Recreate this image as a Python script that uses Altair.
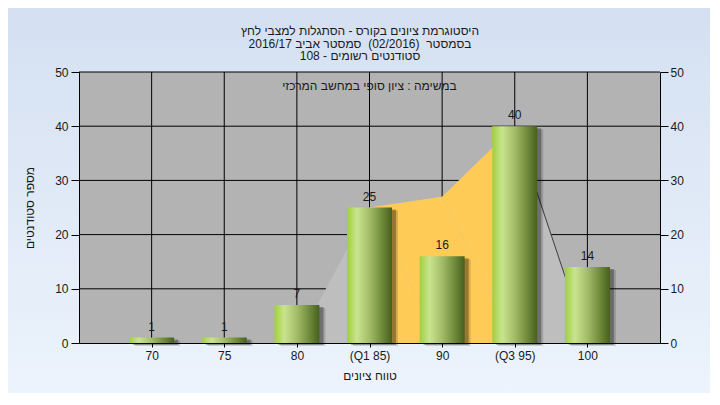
import altair as alt
import pandas as pd

# ---- data ----
categories = ["70", "75", "80", "(Q1 85)", "90", "(Q3 95)", "100"]
counts = [1, 1, 7, 25, 16, 40, 14]
area_values = [0, 0, 0, 25, 27, 40, 0]
iqr_categories = ["(Q1 85)", "90", "(Q3 95)"]
iqr_values = [25, 27, 40]
tail_categories = ["(Q3 95)", "100"]
tail_values = [40, 0]
y_ticks = [0, 10, 20, 30, 40, 50]

title_lines = [
    "היסטוגרמת ציונים בקורס - הסתגלות למצבי לחץ",
    "בסמסטר \u00a0(02/2016) \u00a0סמסטר אביב 2016/17",
    "סטודנטים רשומים - 108",
]
subtitle = "במשימה : ציון סופי במחשב המרכזי"
x_title = "טווח ציונים"
y_title = "מספר סטודנטים"

FONT = "Liberation Sans"
W, H = 581, 271

df_main = pd.DataFrame({"cat": categories, "count": counts, "area": area_values,
                        "idx": list(range(len(categories)))})
df_iqr = pd.DataFrame({"cat": iqr_categories, "v": iqr_values, "idx": list(range(len(iqr_categories)))})
df_tail = pd.DataFrame({"cat": tail_categories, "v": tail_values, "idx": list(range(len(tail_categories)))})
df_ticks = pd.DataFrame({"v": y_ticks[1:]})
df_one = pd.DataFrame({"a": [0]})

xscale = alt.Scale(type="point", domain=categories, padding=1)
yscale = alt.Scale(domain=[0, 50], nice=False)

x_axis = alt.Axis(title=x_title, labelAngle=0, grid=False, tickSize=4, labelPadding=3,
                  titlePadding=9, domainColor="black", tickColor="black",
                  labelColor="#1a1a1a", titleColor="#1a1a1a", labelFont=FONT, titleFont=FONT,
                  labelFontSize=12, titleFontSize=12, titleFontWeight="normal", zindex=1)
X = alt.X("cat:N", scale=xscale, axis=x_axis)

bg = alt.Chart(df_one).mark_rect(
    color=alt.Gradient(gradient="linear", x1=0, x2=0, y1=0, y2=1,
                       stops=[alt.GradientStop(color="#d3dff1", offset=0),
                              alt.GradientStop(color="#eef5fd", offset=1)])
).encode(x=alt.value(-80), x2=alt.value(W + 80), y=alt.value(-80), y2=alt.value(H + 80))

plot_bg = alt.Chart(df_one).mark_rect(color="#b3b3b3").encode(
    x=alt.value(0), x2=alt.value("width"), y=alt.value(0), y2=alt.value("height"))

hgrid = alt.Chart(df_ticks).mark_rule(color="black", strokeWidth=1).encode(
    y=alt.Y("v:Q", scale=yscale, axis=None))
vgrid = alt.Chart(df_main).mark_rule(color="black", strokeWidth=1).encode(x=X)

area_gray = alt.Chart(df_main).mark_area(color="#bebebe").encode(
    x=X, y=alt.Y("area:Q", scale=yscale, axis=None), order="idx:Q")
area_yellow = alt.Chart(df_iqr).mark_area(color="#ffcb57").encode(
    x=X, y=alt.Y("v:Q", scale=yscale, axis=None), order="idx:Q")
tail_line = alt.Chart(df_tail).mark_line(color="#3c3c3c", strokeWidth=1).encode(
    x=X, y=alt.Y("v:Q", scale=yscale, axis=None), order="idx:Q")

shadow1 = alt.Chart(df_main).mark_bar(size=45, color="#000000", opacity=0.15, xOffset=6, yOffset=3).encode(
    x=X, y=alt.Y("count:Q", scale=yscale, axis=None))
shadow2 = alt.Chart(df_main).mark_bar(size=45, color="#000000", opacity=0.3, xOffset=4, yOffset=2).encode(
    x=X, y=alt.Y("count:Q", scale=yscale, axis=None))

bar_grad = alt.Gradient(gradient="linear", x1=0, x2=1, y1=0, y2=0, stops=[
    alt.GradientStop(color="#9fcf3e", offset=0),
    alt.GradientStop(color="#c9e48e", offset=0.22),
    alt.GradientStop(color="#a3bc6a", offset=0.5),
    alt.GradientStop(color="#6f8a3a", offset=0.78),
    alt.GradientStop(color="#46601e", offset=1),
])

bars = alt.Chart(df_main).mark_bar(size=45, color=bar_grad).encode(
    x=X,
    y=alt.Y("count:Q", scale=yscale,
            axis=alt.Axis(title=y_title, values=y_ticks, grid=False, tickSize=8, labelPadding=3,
                          titlePadding=18, domainColor="black", tickColor="black",
                          labelColor="#1a1a1a", titleColor="#1a1a1a", labelFont=FONT, titleFont=FONT,
                          labelFontSize=12, titleFontSize=12, titleFontWeight="normal", zindex=1)),
)

labels = alt.Chart(df_main).mark_text(dy=-7, baseline="alphabetic", fontSize=12, font=FONT,
                                      color="#1a1a1a").encode(
    x=X,
    y=alt.Y("count:Q", scale=yscale,
            axis=alt.Axis(orient="right", title=None, values=y_ticks, grid=False, tickSize=8,
                          labelPadding=2, domainColor="black", tickColor="black",
                          labelColor="#1a1a1a", labelFont=FONT, labelFontSize=12, zindex=1)),
    text="count:Q",
)

sub = alt.Chart(df_one).mark_text(text=subtitle, fontSize=12, font=FONT, color="#1a1a1a",
                                   baseline="middle", align="center").encode(
    x=alt.value(W / 2), y=alt.value(14))

title = alt.Chart(df_one).mark_text(text=title_lines, fontSize=12, font=FONT, color="#1a1a1a",
                                     baseline="middle", align="center", lineHeight=12.5).encode(
    x=alt.value(W / 2 - 9.5), y=alt.value(-41))

chart = alt.layer(bg, plot_bg, hgrid, vgrid, area_gray, area_yellow, tail_line,
                  shadow1, shadow2, bars, labels, sub, title).resolve_axis(y="independent").properties(
    width=W, height=H,
    autosize="none",
    padding={"left": 71, "top": 64, "right": 50, "bottom": 50},
).configure_view(stroke=None)

chart.save("out.html", embed_options={"renderer": "svg", "actions": False})
